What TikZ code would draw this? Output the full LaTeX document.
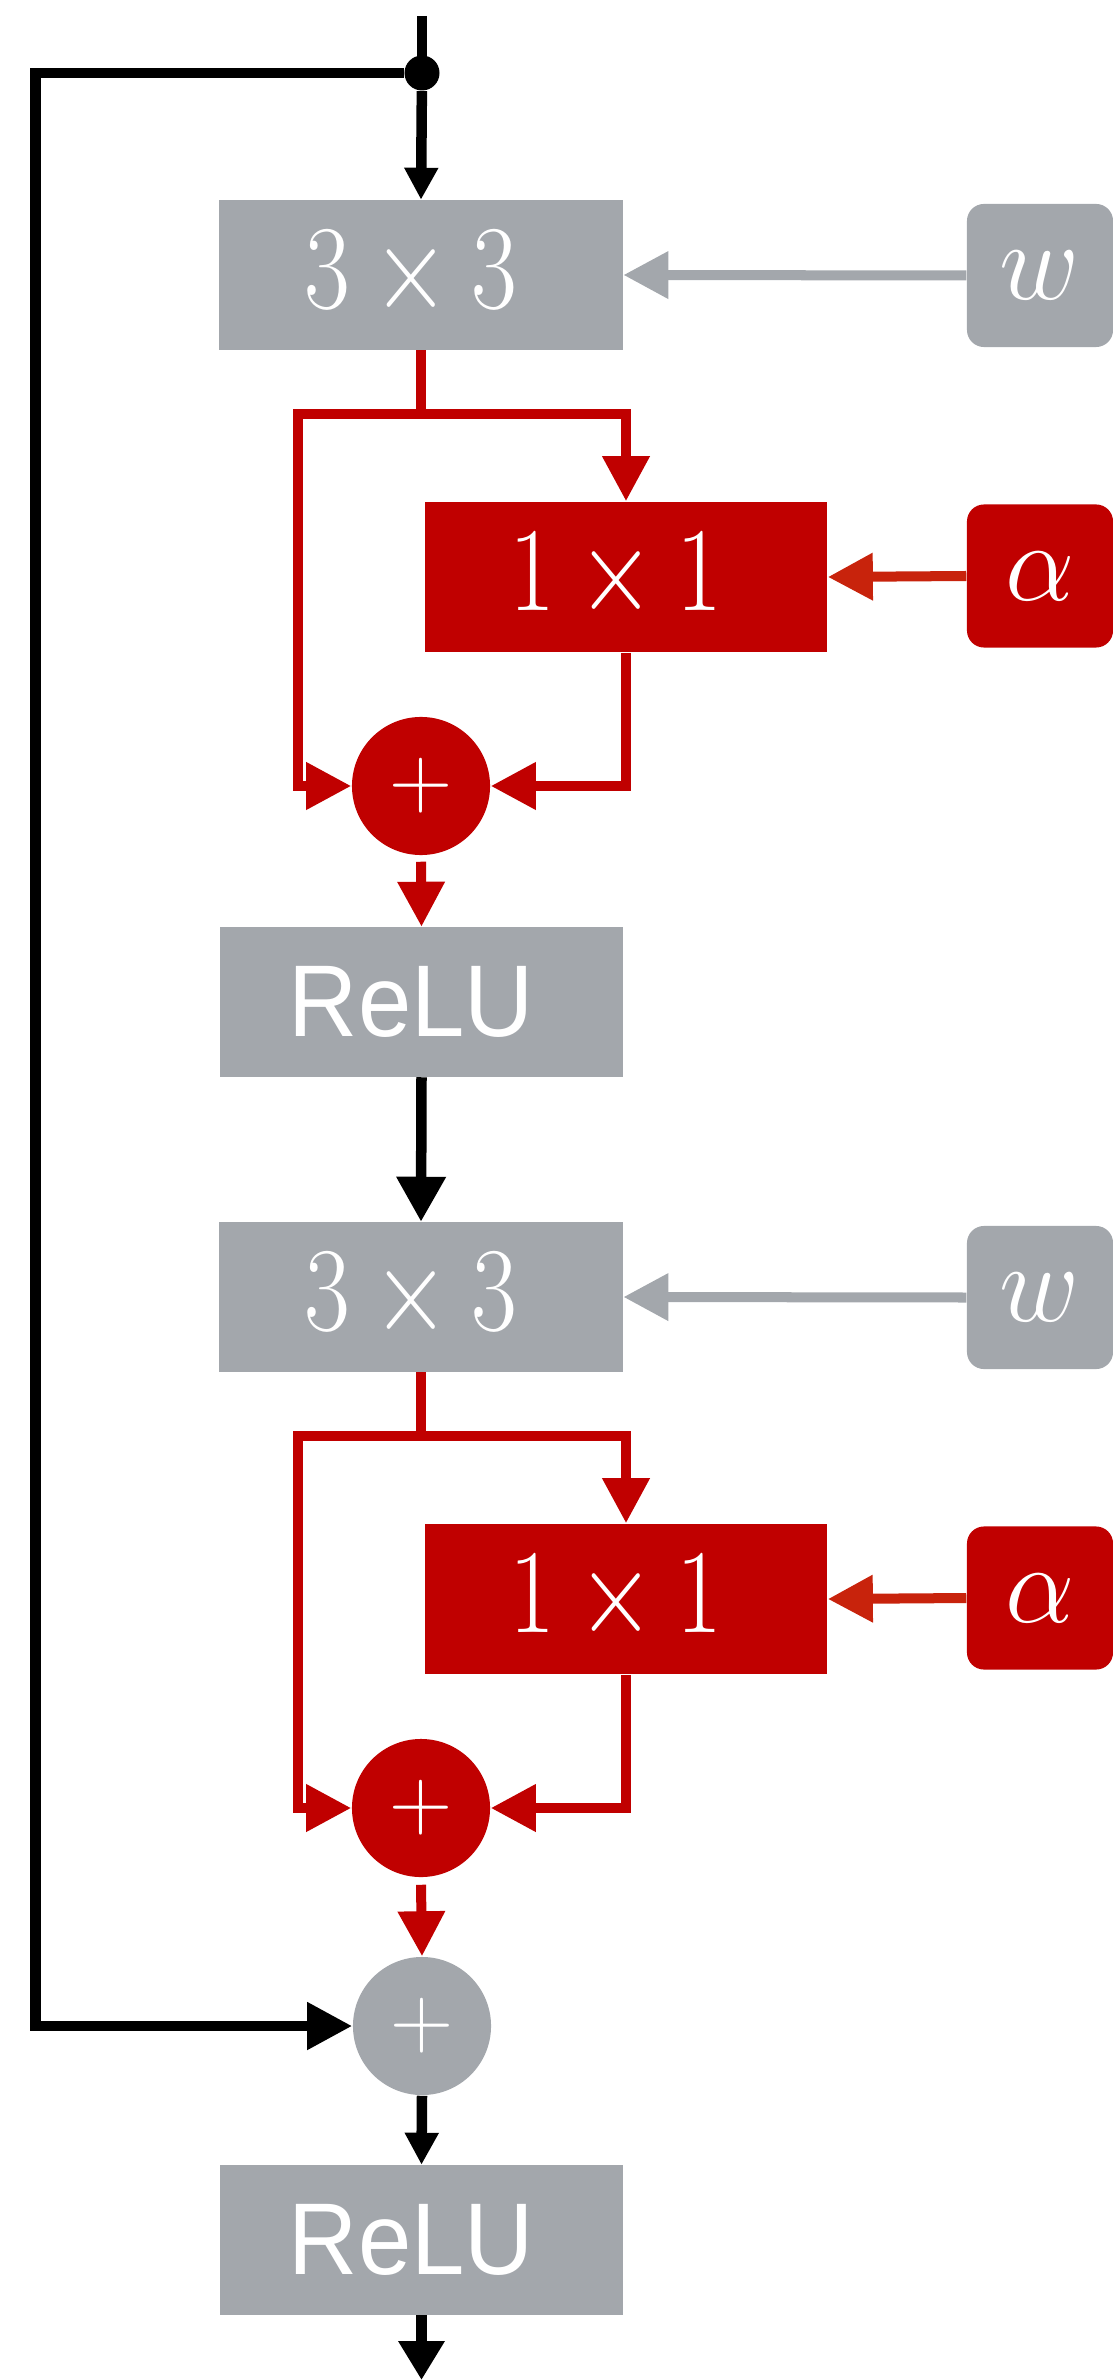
\documentclass[tikz,border=0pt]{standalone}
\usepackage{fontspec}
\newfontfamily\helv[FakeStretch=0.94]{Liberation Sans}
\usetikzlibrary{arrows.meta,calc}
\definecolor{cgray}{RGB}{163,167,172}
\definecolor{cred}{RGB}{192,0,0}
\definecolor{cred2}{RGB}{200,35,12}
\newcommand{\optext}[1]{\scalebox{1.14}[1.37]{\fontsize{24.88}{30}\selectfont$#1$}\hspace*{0.2cm}}
\newcommand{\parmtext}[1]{\scalebox{1.26}[1.28]{\fontsize{24.88}{30}\selectfont$#1$}}
\newcommand{\relutext}{{\fontsize{29}{34}\selectfont\helv ReLU}\hspace*{0.2cm}}
\begin{document}
\begin{tikzpicture}[x=0.01cm,y=-0.01cm,
  bigfont/.style={font=\fontsize{24.88}{30}\selectfont},
  box/.style={bigfont,fill=cgray,minimum width=4.03cm,minimum height=1.49cm,inner sep=0pt,text=white},
  redbox/.style={box,fill=cred,minimum width=4.02cm,minimum height=1.5cm},
  parbox/.style={bigfont,rounded corners=0.17cm,minimum width=1.46cm,minimum height=1.43cm,inner sep=0pt,text=white},
  circ/.style={bigfont,circle,minimum size=1.38cm,inner sep=0pt,text=white},
  dotnode/.style={circle,fill=black,minimum size=0.35cm,inner sep=0pt},
  bl/.style={draw=black,line width=0.105cm},
  rl/.style={draw=cred,line width=0.1cm},
  gl/.style={draw=cgray,line width=0.1cm},
  al/.style={draw=cred2,line width=0.1cm},
  tipS/.style={-{Triangle[length=0.32cm,width=0.32cm]}},
  tipL/.style={-{Triangle[length=0.45cm,width=0.45cm]}},
  tipB/.style={-{Triangle[length=0.45cm,width=0.47cm]}},
]
\useasboundingbox (0,0) rectangle (1112,2380);

% ---------- nodes ----------
\coordinate (top) at (422,16);
\node[dotnode] (dot) at (422,73) {};

\node[box] (c1) at (421,275) {\optext{3\times3}};
\node[parbox,fill=cgray] (w1) at (1040,275.5) {\parmtext{w}};
\node[redbox] (d1) at (626,577) {\optext{1\times1}};
\node[parbox,fill=cred] (a1) at (1040,576) {\parmtext{\alpha}};
\node[circ,fill=cred] (p1) at (421,786) {$+$};
\node[box] (r1) at (421.5,1002) {\relutext};

\node[box] (c2) at (421,1297) {\optext{3\times3}};
\node[parbox,fill=cgray] (w2) at (1040,1297.5) {\parmtext{w}};
\node[redbox] (d2) at (626,1599) {\optext{1\times1}};
\node[parbox,fill=cred] (a2) at (1040,1598) {\parmtext{\alpha}};
\node[circ,fill=cred] (p2) at (421,1808) {$+$};

\node[circ,fill=cgray] (g) at (422,2026) {$+$};
\node[box] (r2) at (421.5,2240) {\relutext};
\coordinate (bot) at (421.5,2380);
\coordinate (skip) at (35.5,2026);

% ---------- connectors ----------
\draw[bl] (top) -- (dot.center);
\draw[bl,tipS] (dot) -- (c1.north);
\draw[bl,tipL] (dot) -| (skip) -- (g.west);

% block 1
\draw[gl,tipL] (w1.west) -- (c1.east);
\draw[rl] (c1.south) -- ++(0,64) coordinate (b1);
\draw[rl,tipL] (b1) -| (d1.north);
\draw[rl,tipL] (b1) -| ([xshift=-0.53cm]p1.west) -- (p1.west);
\draw[al,tipL] (a1.west) -- (d1.east);
\draw[rl,tipL] (d1.south) |- (p1.east);
\draw[rl,tipL] ([yshift=-0.06cm]p1.south) -- (r1.north);
\draw[bl,tipB] (r1.south) -- (c2.north);

% block 2
\draw[gl,tipL] (w2.west) -- (c2.east);
\draw[rl] (c2.south) -- ++(0,64) coordinate (b2);
\draw[rl,tipL] (b2) -| (d2.north);
\draw[rl,tipL] (b2) -| ([xshift=-0.53cm]p2.west) -- (p2.west);
\draw[al,tipL] (a2.west) -- (d2.east);
\draw[rl,tipL] (d2.south) |- (p2.east);
\draw[rl,tipL] ([yshift=-0.07cm]p2.south) -- (g.north);

% output
\draw[bl,tipS] (g.south) -- (r2.north);
\draw[bl,-{Triangle[length=0.39cm,width=0.44cm]}] (r2.south) -- (bot);
\end{tikzpicture}
\end{document}
